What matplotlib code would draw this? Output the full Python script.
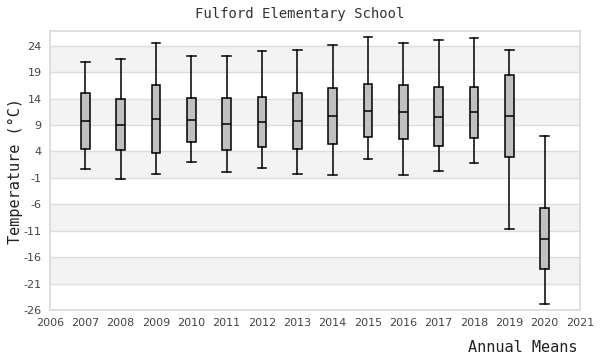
import numpy as np
from matplotlib import pyplot as plt

years = [2007, 2008, 2009, 2010, 2011, 2012, 2013, 2014, 2015, 2016, 2017, 2018, 2019, 2020]
whisk_low = [0.6, -1.2, -0.3, 2.0, 0.1, 0.8, -0.3, -0.5, 2.5, -0.5, 0.3, 1.8, -10.7, -24.9]
q1 = [4.4, 4.2, 3.7, 5.8, 4.2, 4.8, 4.4, 5.4, 6.7, 6.3, 5.0, 6.5, 2.9, -18.3]
medians = [9.7, 9.0, 10.1, 9.9, 9.2, 9.5, 9.7, 10.7, 11.6, 11.4, 10.5, 11.4, 10.7, -12.6]
q3 = [15.0, 13.9, 16.6, 14.1, 14.1, 14.3, 15.0, 16.0, 16.7, 16.6, 16.2, 16.2, 18.4, -6.7]
whisk_high = [20.9, 21.5, 24.5, 22.0, 22.0, 23.0, 23.2, 24.1, 25.6, 24.5, 25.1, 25.5, 23.2, 6.9]

y_ticks = [24, 19, 14, 9, 4, -1, -6, -11, -16, -21, -26]
x_ticks = list(range(2006, 2022))

mono = 'DejaVu Sans Mono'

fig = plt.figure(figsize=(6, 3.6), dpi=100)
ax = fig.add_axes([50/600, 1 - 310/360, 530/600, 279/360])

# alternating bands between gridlines
for i in range(len(y_ticks) - 1):
    if i % 2 == 0:
        ax.axhspan(y_ticks[i + 1], y_ticks[i], color='#f3f3f3', zorder=0, lw=0)
for t in y_ticks:
    ax.axhline(t, color='#dddddd', lw=1, zorder=1)

stats = []
for i in range(len(years)):
    stats.append({'whislo': whisk_low[i], 'q1': q1[i], 'med': medians[i],
                  'q3': q3[i], 'whishi': whisk_high[i], 'fliers': []})

ax.bxp(stats, positions=years, widths=0.24, patch_artist=True, showfliers=False,
       boxprops=dict(facecolor='#c0c0c0', edgecolor='black', linewidth=1.1),
       medianprops=dict(color='black', linewidth=1.1),
       whiskerprops=dict(color='black', linewidth=1.1),
       capprops=dict(color='black', linewidth=1.1),
       capwidths=0.24, zorder=3)

ax.set_xlim(2006, 2021)
ax.set_ylim(-26, 26.8)
ax.set_xticks(x_ticks)
ax.set_xticklabels([str(x) for x in x_ticks])
ax.set_yticks(y_ticks)
ax.set_yticklabels([str(t) for t in y_ticks])
ax.tick_params(length=0, labelsize=8, colors='#444444', pad=6)

for s in ax.spines.values():
    s.set_color('#d9d9d9')
    s.set_linewidth(1.2)

fig.text(0.5, 1 - 14/360, 'Fulford Elementary School', ha='center', va='center',
         family=mono, fontsize=10, color='#333333')
ax.set_ylabel('Temperature (°C)', family=mono, fontsize=11, color='#222222')
ax.yaxis.set_label_coords(-27/530, 0.5)
fig.text(578/600, 1 - 347/360, 'Annual Means', ha='right', va='center',
         family=mono, fontsize=11, color='#222222')

plt.savefig('out.png', dpi=100)
